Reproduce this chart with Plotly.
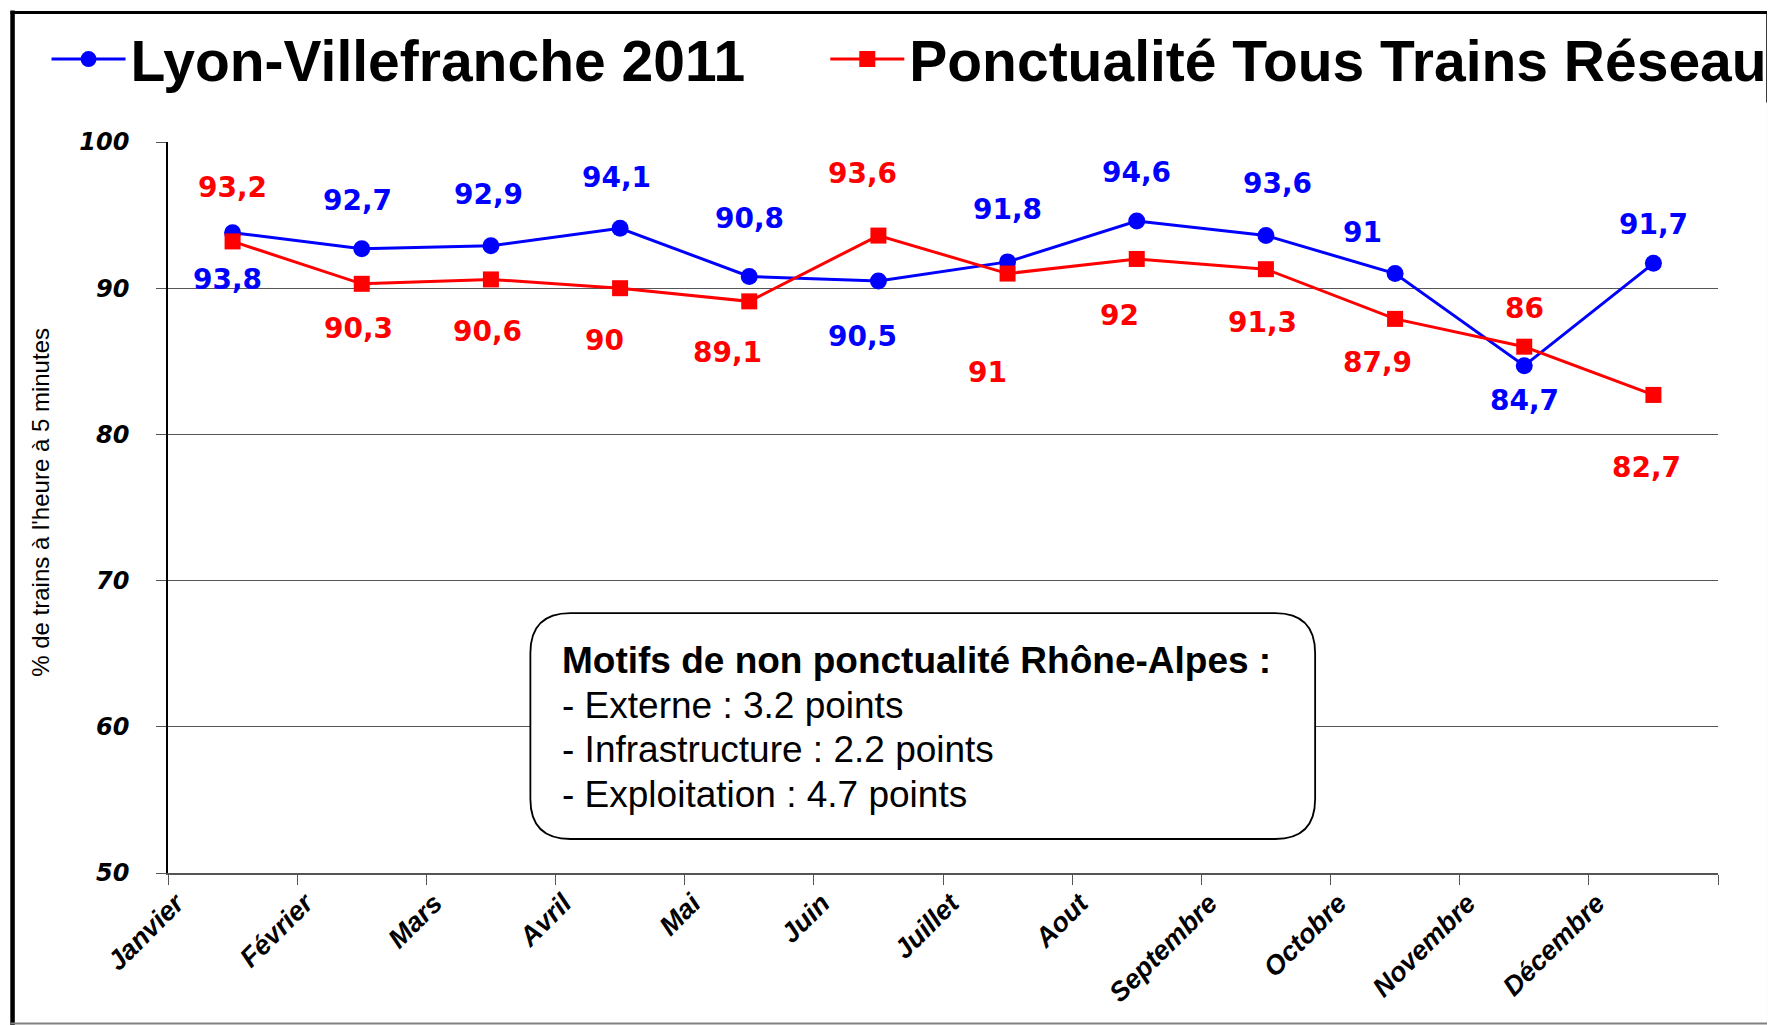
import plotly.graph_objects as go

# ---------------- data ----------------
months = ["Janvier", "Février", "Mars", "Avril", "Mai", "Juin", "Juillet",
          "Aout", "Septembre", "Octobre", "Novembre", "Décembre"]
lyon_villefranche = [93.8, 92.7, 92.9, 94.1, 90.8, 90.5, 91.8, 94.6, 93.6, 91.0, 84.7, 91.7]
tous_trains = [93.2, 90.3, 90.6, 90.0, 89.1, 93.6, 91.0, 92.0, 91.3, 87.9, 86.0, 82.7]
y_ticks = [50, 60, 70, 80, 90, 100]
motifs_title = "Motifs de non ponctualité Rhône-Alpes :"
motifs = ["- Externe : 3.2 points", "- Infrastructure : 2.2 points", "- Exploitation : 4.7 points"]

# label offsets (pixels) – layout only
blue_dx = [-5, -4, -2, -4, 0, -16, 0, 0, 12, -33, 0, 0]
blue_dy = [-47, 48, 51, 51, 58, -56, 52, 48, 52, 41, -35, 39]
red_dx = [0, -3, -3, -16, -22, -16, -20, -17, -3, -18, 0, -7]
red_dy = [54, -45, -52, -52, -51, 62, -99, -57, -53, -44, 38, -73]

# page body has an 8px margin: work in screen pixels, figure is shifted by OFF
OFF = 8
W, H = 1775 - OFF, 1025 - OFF
L, R, T, B = 167.5, 1718.0, 141.5, 873.0          # screen pixels of plot area
PW, PH = R - L, B - T


def px(x):
    return (x - L) / PW


def py(y):
    return 1 - (y - T) / PH


BLUE = "#0000FF"
RED = "#FF0000"
xpos = [i + 0.5 for i in range(len(months))]

fig = go.Figure()
fig.add_trace(go.Scatter(
    x=xpos, y=lyon_villefranche, mode="lines+markers", name="Lyon-Villefranche 2011",
    line=dict(color=BLUE, width=3),
    marker=dict(symbol="circle", size=17, color=BLUE),
    legend="legend",
))
fig.add_trace(go.Scatter(
    x=xpos, y=tous_trains, mode="lines+markers", name="Ponctualité Tous Trains Réseau",
    line=dict(color=RED, width=3),
    marker=dict(symbol="square", size=16, color=RED),
    legend="legend2",
))


def fmt(v):
    return f"{v:g}".replace(".", ",")


annotations = []
for i, v in enumerate(lyon_villefranche):
    annotations.append(dict(x=xpos[i], y=v, xref="x", yref="y", text="<b>" + fmt(v) + "</b>",
                            showarrow=False, xshift=blue_dx[i], yshift=blue_dy[i],
                            font=dict(family="DejaVu Sans", size=28, color=BLUE)))
for i, v in enumerate(tous_trains):
    annotations.append(dict(x=xpos[i], y=v, xref="x", yref="y", text="<b>" + fmt(v) + "</b>",
                            showarrow=False, xshift=red_dx[i], yshift=red_dy[i],
                            font=dict(family="DejaVu Sans", size=28, color=RED)))

# y-axis title
annotations.append(dict(x=px(40), y=py(502), xref="paper", yref="paper",
                        text="% de trains à l'heure à 5 minutes", textangle=-90,
                        showarrow=False, xanchor="center", yanchor="middle",
                        font=dict(family="Liberation Sans", size=24, color="black")))

# text box lines
box_lines = ["<b>" + motifs_title + "</b>"] + motifs
box_y = [660, 705, 749, 794]
for txt, yy in zip(box_lines, box_y):
    annotations.append(dict(x=px(560), y=py(yy), xref="paper", yref="paper",
                            text=txt, showarrow=False, xanchor="left", yanchor="middle",
                            align="left",
                            font=dict(family="Liberation Sans", size=37, color="black")))

# rounded rectangle
x0, x1 = px(530), px(1315)
y0, y1 = py(839), py(613)
rx, ry = 40 / PW, 40 / PH
path = (f"M {x0+rx},{y1} L {x1-rx},{y1} Q {x1},{y1} {x1},{y1-ry} "
        f"L {x1},{y0+ry} Q {x1},{y0} {x1-rx},{y0} L {x0+rx},{y0} "
        f"Q {x0},{y0} {x0},{y0+ry} L {x0},{y1-ry} Q {x0},{y1} {x0+rx},{y1} Z")

shapes = [
    dict(type="path", path=path, xref="paper", yref="paper",
         line=dict(color="black", width=1.8), fillcolor="white", layer="above"),
    # outer frame
    dict(type="line", xref="paper", yref="paper", x0=px(12), x1=px(12), y0=py(10), y1=py(1030),
         line=dict(color="black", width=4.5)),
    dict(type="line", xref="paper", yref="paper", x0=px(10), x1=px(1768), y0=py(12), y1=py(12),
         line=dict(color="black", width=3)),
    dict(type="line", xref="paper", yref="paper", x0=px(1767), x1=px(1767), y0=py(11), y1=py(102),
         line=dict(color="black", width=1.5)),
    dict(type="line", xref="paper", yref="paper", x0=px(1770), x1=px(1770), y0=py(100), y1=py(1030),
         line=dict(color="black", width=6)),
    dict(type="line", xref="paper", yref="paper", x0=px(10), x1=px(1775), y0=py(1023.5), y1=py(1023.5),
         line=dict(color="#808080", width=2)),
]

legend_common = dict(orientation="h", xref="paper", yref="paper", xanchor="left", yanchor="middle",
                     font=dict(family="Liberation Sans", size=57, color="black", weight="bold"),
                     itemwidth=74, bgcolor="rgba(0,0,0,0)", borderwidth=0)

fig.update_layout(
    width=W, height=H,
    margin=dict(l=L - OFF, r=W - (R - OFF), t=T - OFF, b=H - (B - OFF), autoexpand=False),
    paper_bgcolor="white", plot_bgcolor="white",
    showlegend=True,
    legend=dict(x=px(46), y=py(59), **legend_common),
    legend2=dict(x=px(825), y=py(59), **legend_common),
    annotations=annotations,
    shapes=shapes,
    xaxis=dict(range=[0, 12], tickvals=list(range(13)), ticktext=months + [""],
               tickangle=-45, ticks="outside", ticklen=10, tickcolor="#555555",
               showgrid=False, zeroline=False, showline=True, linecolor="#555555", linewidth=1.5,
               tickfont=dict(family="Liberation Sans", size=27, color="black", weight="bold", style="italic"),
               ticklabelshift=8, ticklabelstandoff=-8, fixedrange=True),
    yaxis=dict(range=[50, 100], tickvals=y_ticks, ticks="outside", ticklen=10, tickcolor="#555555",
               showgrid=True, gridcolor="#555555", gridwidth=1, zeroline=False,
               showline=True, linecolor="black", linewidth=1.5,
               tickfont=dict(family="DejaVu Sans", size=24, color="black", weight="bold", style="italic"),
               ticklabelstandoff=22, fixedrange=True),
)

fig.write_html("out.html")
